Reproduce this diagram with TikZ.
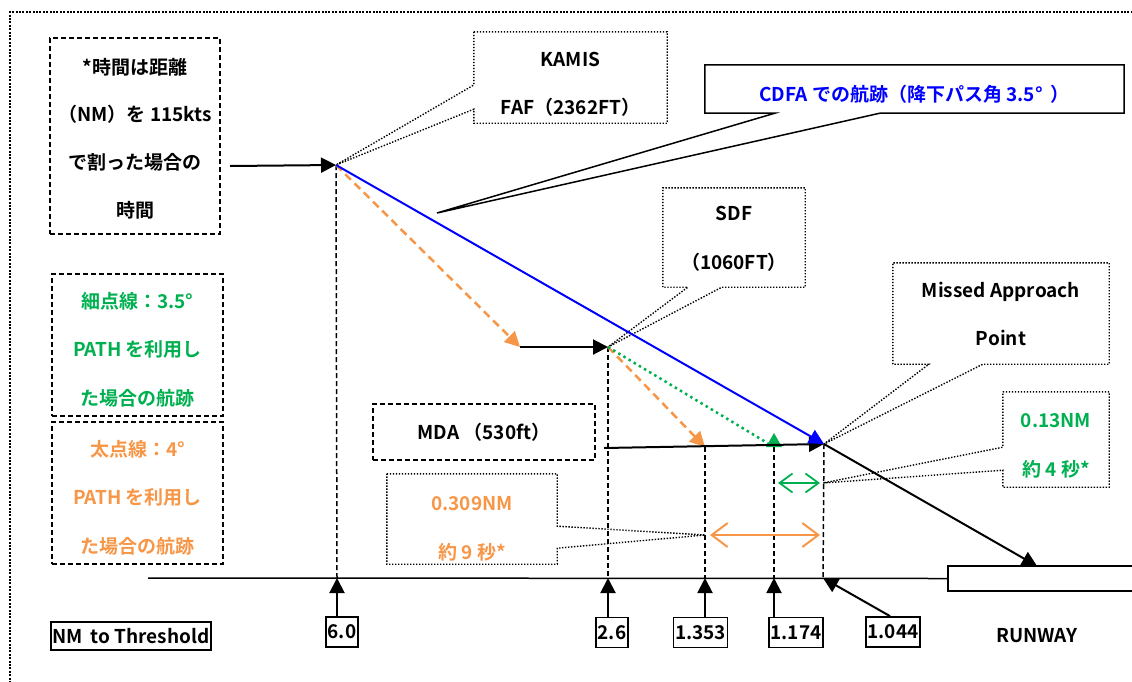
\documentclass[tikz,border=0pt]{standalone}
\usepackage{fontspec}
\setmainfont{Noto Sans CJK JP}[BoldFont={Noto Sans CJK JP Bold}]
\usetikzlibrary{arrows.meta,calc}
\definecolor{orng}{HTML}{F79646}
\definecolor{grn}{HTML}{00B050}
\definecolor{blu}{HTML}{0000FF}
\begin{document}
\begin{tikzpicture}[x=1pt,y=-1pt,
  txt/.style={font=\bfseries\fontsize{19}{48.5}\selectfont, align=center, inner sep=0pt},
  dashbox/.style={draw, line width=1.5pt, dash pattern=on 5pt off 3pt, inner sep=0pt},
  plainbox/.style={draw=none, inner sep=0pt},
  callout/.style={line width=1.4pt, dash pattern=on 1.4pt off 1.6pt},
  vdash/.style={line width=1.5pt, dash pattern=on 5pt off 3pt},
  arr/.style={line width=2pt, -{Triangle[length=15pt,width=15pt]}},
  numbox/.style={draw, line width=1.8pt, inner xsep=1.5pt, inner ysep=0pt, minimum height=30pt,
    font=\bfseries\fontsize{19}{19}\selectfont},
  dbl/.style={line width=2pt, {Straight Barb[length=16pt,width=24pt]}-{Straight Barb[length=16pt,width=24pt]}}
]
\useasboundingbox (0,0) rectangle (1132,681);
% outer dotted border
\draw[line width=2.2pt, dash pattern=on 2pt off 1.4pt] (10,700) -- (10,12) -- (1150,12);

% key points
\coordinate (faf) at (336,165);
\coordinate (sdf) at (608,347);
\coordinate (map) at (824,444);
\coordinate (o1) at (520,347);
\coordinate (o2) at (705,447);
\coordinate (gpt) at (774,447);
\coordinate (mdaL) at (604,448);
\coordinate (rwytip) at (1037,566);
\coordinate (cdfatip) at (437,213);
\coordinate (fafin) at (230,166);
\coordinate (base0) at (148,578);
\coordinate (t60) at (337,578);
\coordinate (t26) at (608,578);
\coordinate (t1353) at (705,578);
\coordinate (t1174) at (774,578);
\coordinate (t1044) at (823,578);
\coordinate (oL) at (705,535);
\coordinate (oR) at (823,535);
\coordinate (gL) at (774,483);
\coordinate (gR) at (823,483);

% runway and baseline
\node[draw, line width=1.5pt, minimum width=200pt, minimum height=25pt, inner sep=0pt] (runway) at (1048,578.5) {};
\draw[line width=1.5pt] (base0) -- (runway.west);

% vertical dashed lines
\draw[vdash] (faf) -- (t60);
\draw[vdash] (sdf) -- (t26);
\draw[vdash] (o2) -- (t1353);
\draw[vdash] (gpt) -- (t1174);
\draw[vdash] (map) -- (t1044);

% left boxes
\node[dashbox, minimum width=170pt, minimum height=196pt] (note) at (135,136) {};
\node[txt, font=\bfseries\fontsize{19}{47.7}\selectfont] (noteT) at (135,138.5)
  {*時間は距離\\（NM）を 115kts\\で割った場合の\\時間};
\node[dashbox, minimum width=171pt, minimum height=142pt] (thin) at (137.5,345) {};
\node[txt, text=grn] (thinT) at (137.5,349.5) {細点線：3.5°\\PATH を利用し\\た場合の航跡};
\node[dashbox, minimum width=171pt, minimum height=142pt] (thick) at (137.5,493) {};
\node[txt, text=orng] (thickT) at (137.5,497.5) {太点線：4°\\PATH を利用し\\た場合の航跡};
\node[dashbox, minimum width=222pt, minimum height=56pt] (mda) at (484,432) {};
\node[txt] (mdaT) at (484,432) {MDA （530ft）};

% callouts
\node[plainbox, minimum width=193pt, minimum height=91pt] (kamis) at (570.5,77.5) {};
\node[txt] (kamisT) at (570.5,84.5) {KAMIS\\FAF（2362FT）};
\draw[callout] (kamis.north west) -- ([yshift=-7.5pt]kamis.west) -- (faf) -- ([yshift=14pt]kamis.south west)
  -- (kamis.south west) -- (kamis.south east) -- (kamis.north east) -- cycle;

\node[plainbox, minimum width=419pt, minimum height=48pt] (cdfa) at (914.5,89) {};
\node[txt, text=blu] (cdfaT) at (914.5,94) {CDFA での航跡（降下パス角 3.5°\hspace{8pt}）};
\draw[line width=1.5pt] (cdfa.north west) -- (cdfa.south west) -- ([xshift=70pt]cdfa.south west) -- (cdfatip)
  -- ([xshift=175pt]cdfa.south west) -- (cdfa.south east) -- (cdfa.north east) -- cycle;

\node[plainbox, minimum width=142pt, minimum height=99pt] (sdfbox) at (734,237.5) {};
\node[txt] (sdfT) at (734,239) {SDF\\（1060FT）};
\draw[callout] (sdfbox.south west) -- (sdfbox.north west) -- (sdfbox.north east) -- (sdfbox.south east)
  -- ([xshift=59pt]sdfbox.south west) -- (sdf) -- ([xshift=25pt]sdfbox.south west) -- cycle;

\node[plainbox, minimum width=216pt, minimum height=101pt] (mapbox) at (1001,313.5) {};
\node[txt] (mapT) at (1001,314) {Missed Approach\\Point};
\draw[callout] (mapbox.south west) -- (mapbox.north west) -- (mapbox.north east) -- (mapbox.south east)
  -- ([xshift=90pt]mapbox.south west) -- (map) -- ([xshift=36pt]mapbox.south west) -- cycle;

\node[plainbox, minimum width=170pt, minimum height=90pt] (d309) at (472,519) {};
\node[txt, text=orng] (d309T) at (472,529) {0.309NM\\約 9 秒*};
\draw[callout] (d309.north west) -- (d309.north east) -- ([yshift=38pt]d309.south east) -- (oL)
  -- ([yshift=16pt]d309.south east) -- (d309.south east) -- (d309.south west) -- cycle;

\node[plainbox, minimum width=106pt, minimum height=95pt] (d13) at (1056,439.5) {};
\node[txt, text=grn] (d13T) at (1056,446) {0.13NM\\約 4 秒*};
\draw[callout] (d13.north west) -- (d13.north east) -- (d13.south east) -- (d13.south west)
  -- ([yshift=17pt]d13.south west) -- (gR) -- ([yshift=40pt]d13.south west) -- cycle;

% flight paths
\draw[arr] (fafin) -- (faf);
\draw[arr, orng, dash pattern=on 8pt off 5pt, line width=2.5pt] (faf) -- (o1);
\draw[arr] (o1) -- (sdf);
\draw[arr, orng, dash pattern=on 8pt off 5pt, line width=2.5pt] (sdf) -- (o2);
\draw[grn, line width=2.5pt, dash pattern=on 2.5pt off 3.5pt, shorten >=7pt] (sdf) -- (gpt);
\fill[grn] ([xshift=-8pt]gpt) -- ([xshift=8pt]gpt) -- ([yshift=14pt]gpt) -- cycle;
\draw[arr] (mdaL) -- (map);
\draw[arr, blu] (faf) -- (map);
\draw[arr] (map) -- (rwytip);

% distance arrows
\draw[dbl, orng, shorten <=5pt, shorten >=3pt] (oL) -- (oR);
\draw[dbl, grn, line width=1.8pt, {Straight Barb[length=13pt,width=19pt]}-{Straight Barb[length=13pt,width=19pt]}, shorten <=4pt, shorten >=3pt] (gL) -- (gR);

% bottom labels
\node[numbox, minimum height=28pt] (nmthr) at (131,636) {NM\hspace{8pt}to Threshold};
\node[numbox] (n60) at (342,632) {6.0};
\node[numbox] (n26) at (612,632.5) {2.6};
\node[numbox] (n1353) at (700.5,632.5) {1.353};
\node[numbox] (n1174) at (796,632.5) {1.174};
\node[numbox] (n1044) at (893,632) {1.044};
\node[txt] (rwytxt) at (1037,636) {RUNWAY};

\draw[arr] (t60 |- n60.north) -- (t60);
\draw[arr] (t26 |- n26.north) -- (t26);
\draw[arr] (t1353 |- n1353.north) -- (t1353);
\draw[arr] (t1174 |- n1174.north) -- (t1174);
\draw[arr] ([xshift=-3pt]n1044.north) -- (t1044);
\end{tikzpicture}
\end{document}
